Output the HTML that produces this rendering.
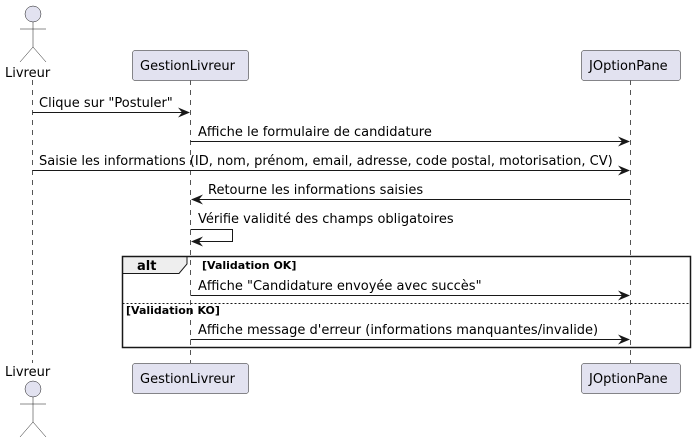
<!DOCTYPE html>
<html><head><style>
html,body{margin:0;padding:0;background:#fff;width:696px;height:443px;overflow:hidden}
text{font-family:"DejaVu Sans","Liberation Sans",sans-serif;font-size:13px;fill:#000}
.b{font-weight:bold;font-size:11px}
</style></head><body>
<svg width="696" height="443" xmlns="http://www.w3.org/2000/svg">
<g stroke="#555" stroke-width="1" stroke-dasharray="5,5">
<line x1="32.5" y1="80" x2="32.5" y2="363"/>
<line x1="190.5" y1="80" x2="190.5" y2="363"/>
<line x1="630.5" y1="80" x2="630.5" y2="363"/>
</g>
<g fill="#E2E2F0" stroke="#181818" stroke-width="0.5">
<rect x="132.5" y="50.5" width="116" height="30" rx="2.5"/>
<rect x="581.5" y="50.5" width="99" height="30" rx="2.5"/>
<rect x="132.5" y="363.5" width="116" height="30" rx="2.5"/>
<rect x="581.5" y="363.5" width="99" height="30" rx="2.5"/>
</g>
<text x="140" y="70">GestionLivreur</text>
<text x="589" y="70">JOptionPane</text>
<text x="140" y="383">GestionLivreur</text>
<text x="589" y="383">JOptionPane</text>
<g fill="#E2E2F0" stroke="#181818" stroke-width="0.5">
<circle cx="33" cy="14" r="8"/>
<circle cx="33" cy="389" r="8"/>
</g>
<g stroke="#181818" stroke-width="0.5" fill="none">
<path d="M33 22 V47 M20 29 H46 M33 47 L20 62 M33 47 L46 62"/>
<path d="M33 397 V422 M20 404 H46 M33 422 L20 437 M33 422 L46 437"/>
</g>
<text x="5" y="77">Livreur</text>
<text x="5" y="376">Livreur</text>
<g stroke="#181818" stroke-width="1" fill="none">
<line x1="32.5" y1="112.5" x2="188" y2="112.5"/>
<line x1="190.5" y1="141.5" x2="628" y2="141.5"/>
<line x1="32.5" y1="170.5" x2="628" y2="170.5"/>
<line x1="193" y1="199.5" x2="630.5" y2="199.5"/>
<path d="M190.5 229.5 H232.5 V241.5 H193"/>
<line x1="190.5" y1="295.5" x2="628" y2="295.5"/>
<line x1="190.5" y1="339.5" x2="628" y2="339.5"/>
</g>
<g fill="#181818">
<path d="M190 112.5 l-12 -5 l4 5 l-4 5z"/>
<path d="M630 141.5 l-12 -5 l4 5 l-4 5z"/>
<path d="M630 170.5 l-12 -5 l4 5 l-4 5z"/>
<path d="M191 199.5 l12 -5 l-4 5 l4 5z"/>
<path d="M191 241.5 l12 -5 l-4 5 l4 5z"/>
<path d="M630 295.5 l-12 -5 l4 5 l-4 5z"/>
<path d="M630 339.5 l-12 -5 l4 5 l-4 5z"/>
</g>
<text x="39" y="107">Clique sur "Postuler"</text>
<text x="198" y="136">Affiche le formulaire de candidature</text>
<text x="39" y="165">Saisie les informations (ID, nom, prénom, email, adresse, code postal, motorisation, CV)</text>
<text x="208" y="194">Retourne les informations saisies</text>
<text x="198" y="223">Vérifie validité des champs obligatoires</text>
<path d="M122.5 256.5 H187 V264 L179 273.5 H122.5z" fill="#EEEEEE" stroke="none"/>
<path d="M122.5 273.5 H179 L187 264 V256.5" fill="none" stroke="#181818" stroke-width="1"/>
<rect x="122.5" y="256.5" width="568" height="91" fill="none" stroke="#181818" stroke-width="1.5"/>
<line x1="122.5" y1="303.5" x2="690.5" y2="303.5" stroke="#181818" stroke-width="1" stroke-dasharray="2,2"/>
<text x="137" y="270" style="font-weight:bold;font-size:13px">alt</text>
<text class="b" x="202" y="269">[Validation OK]</text>
<text class="b" x="126" y="314">[Validation KO]</text>
<text x="198" y="290">Affiche "Candidature envoyée avec succès"</text>
<text x="198" y="334">Affiche message d'erreur (informations manquantes/invalide)</text>
</svg>
</body></html>
